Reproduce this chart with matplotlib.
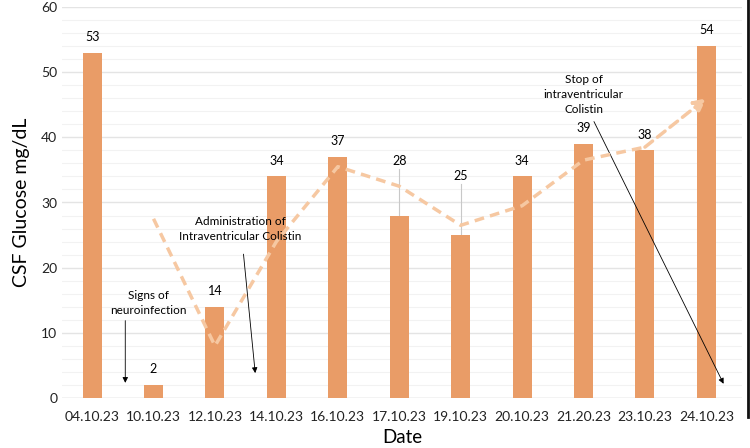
import numpy as np
import matplotlib
matplotlib.use("Agg")
from matplotlib import pyplot as plt
from matplotlib.lines import Line2D

plt.rcParams['font.family'] = ['Lato', 'DejaVu Sans']

dates = ['04.10.23', '10.10.23', '12.10.23', '14.10.23', '16.10.23', '17.10.23',
         '19.10.23', '20.10.23', '21.20.23', '23.10.23', '24.10.23']
glucose = [53, 2, 14, 34, 37, 28, 25, 34, 39, 38, 54]
# 2-period moving average trendline (starts at 2nd date)
trend = [27.5, 8, 24, 35.5, 32.5, 26.5, 29.5, 36.5, 38.5, 46]

bar_col = '#E99C67'
trend_col = '#F6C8A2'

fig = plt.figure(figsize=(7.5, 4.48), dpi=100)
ax = fig.add_axes([62/750, 50/448, 680/750, 391/448])

x = np.arange(len(dates))
ax.bar(x, glucose, width=0.31, color=bar_col, zorder=3)

dash = (0, (2.8, 1.8))
xt = x[1:]
ax.plot(xt[:-1], trend[:-1], color=trend_col, lw=2.5, ls=dash, zorder=4)
ax.annotate('', xy=(xt[-1], trend[-1]), xytext=(xt[-2], trend[-2]),
            arrowprops=dict(arrowstyle='-|>', color=trend_col, lw=2.5, ls=dash,
                            mutation_scale=18, shrinkA=0, shrinkB=0), zorder=4)

# data labels
for i, v in enumerate(glucose):
    if dates[i] == '17.10.23':
        ax.text(i, 35.5, str(v), ha='center', va='bottom', fontsize=9)
        ax.plot([i, i], [28, 35.2], color='#c8c8c8', lw=0.8, zorder=2)
    elif dates[i] == '19.10.23':
        ax.text(i, 33.2, str(v), ha='center', va='bottom', fontsize=9)
        ax.plot([i, i], [25, 32.9], color='#c8c8c8', lw=0.8, zorder=2)
    else:
        ax.text(i, v + 1.5, str(v), ha='center', va='bottom', fontsize=9)

# event annotations
ax.text(0.92, 14.6, 'Signs of\nneuroinfection', ha='center', va='center', fontsize=8.5, linespacing=1.45)
ax.annotate('', xy=(0.54, 1.9), xytext=(0.54, 12.3),
            arrowprops=dict(arrowstyle='-|>', color='black', lw=0.6, mutation_scale=8))
ax.text(2.41, 26.0, 'Administration of\nIntraventricular Colistin', ha='center', va='center',
        fontsize=8.5, linespacing=1.45)
ax.annotate('', xy=(2.66, 3.4), xytext=(2.46, 22.5),
            arrowprops=dict(arrowstyle='-|>', color='black', lw=0.6, mutation_scale=8))
ax.text(8.0, 46.6, 'Stop of\nintraventricular\nColistin', ha='center', va='center',
        fontsize=8.5, linespacing=1.45)
ax.annotate('', xy=(10.3, 1.8), xytext=(8.15, 42.8),
            arrowprops=dict(arrowstyle='-|>', color='black', lw=0.6, mutation_scale=8))

ax.set_xlim(-0.49, 10.58)
ax.set_ylim(0, 60)
ax.set_yticks(np.arange(0, 61, 10))
ax.set_yticks(np.arange(0, 61, 2), minor=True)
ax.grid(axis='y', which='major', color='#e4e4e4', lw=1, zorder=0)
ax.grid(axis='y', which='minor', color='#f2f2f2', lw=0.8, zorder=0)
ax.set_xticks(x)
ax.set_xticklabels(dates)
ax.tick_params(axis='both', which='both', length=0, labelsize=10, colors='#222222')
ax.tick_params(axis='x', pad=9)
for s in ax.spines.values():
    s.set_visible(False)
ax.axhline(0, color='#dcdcdc', lw=1, zorder=2)

ax.set_ylabel('CSF Glucose mg/dL', fontsize=14, labelpad=8)
ax.set_xlabel('Date', fontsize=13.5, labelpad=5)

fig.add_artist(Line2D([0.997, 0.997], [0.07, 1.0], color='#111111', lw=2))

fig.savefig('out.png', dpi=100)
